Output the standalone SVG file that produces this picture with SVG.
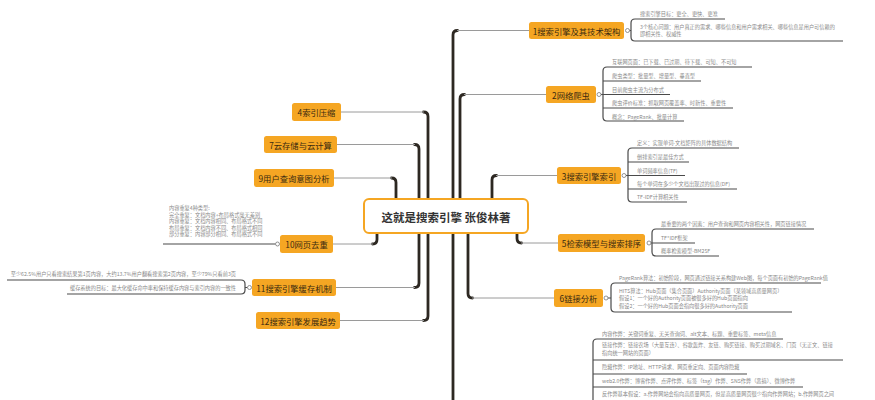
<svg xmlns="http://www.w3.org/2000/svg" width="875" height="400" viewBox="0 0 875 400">
<style>
text{font-family:"Noto Sans CJK SC","Noto Sans",sans-serif}
.node rect{fill:#F5A623;rx:2.5px}
.node text{font-size:8.3px;fill:#3a2a10;text-anchor:middle;dominant-baseline:central}
.trunk{fill:none;stroke:#2d2822;stroke-width:2.8;stroke-linecap:round}
.thin{stroke:#9a9a9a;stroke-width:1;fill:none}
.br{fill:none;stroke:#4a4a4a;stroke-width:1.2}
.knob{fill:#fff;stroke:#777;stroke-width:0.8}
.d{font-size:5.2px;fill:#888}
.de{font-size:5.2px;fill:#888;text-anchor:end}
</style>
<rect width="875" height="400" fill="#fff"/>

<g id="connectors">
  <path class="trunk" d="M453,199 V35 Q453,30.5 457.5,30.5"/>
  <path class="trunk" d="M453,233 V402"/>
  <path class="trunk" d="M460,199 V99 Q460,94.5 464.5,94.5"/>
  <path class="trunk" d="M492,199 V180 Q492,175.5 496.5,175.5"/>
  <path class="trunk" d="M517,233 V238.5 Q517,243 521.5,243"/>
  <path class="trunk" d="M468,233 V293.5 Q468,298 472.5,298"/>
  <path class="trunk" d="M428,199 V116.5 Q428,112 423.5,112"/>
  <path class="trunk" d="M419,199 V149 Q419,144.5 414.5,144.5"/>
  <path class="trunk" d="M396,199 V182.5 Q396,178 391.5,178"/>
  <path class="trunk" d="M377,233 V239.5 Q377,244 372.5,244"/>
  <path class="trunk" d="M419,233 V283 Q419,287.5 414.5,287.5"/>
  <path class="trunk" d="M428,233 V316 Q428,320.5 423.5,320.5"/>
  <path class="thin" d="M457,30.5 H529 M464,94.5 H546 M496,175.5 H557 M521,243 H558 M472,298 H554 M424,112 H341 M415,144.5 H337 M392,178 H334 M373,244 H333 M415,287.5 H336 M424,320.5 H340"/>
</g>

<g id="center">
  <rect x="364" y="199" width="164" height="34" rx="5" fill="#fff" stroke="#F5A623" stroke-width="2"/>
  <text x="446" y="216.5" font-size="11.5" font-weight="bold" fill="#333" text-anchor="middle" dominant-baseline="central">这就是搜索引擎 张俊林著</text>
</g>

<g id="n1" class="node"><rect x="529" y="22" width="95" height="17"/><text x="576.5" y="30.5">1搜索引擎及其技术架构</text></g>
<g id="n2" class="node"><rect x="546" y="86" width="50" height="17"/><text x="571" y="94.5">2网络爬虫</text></g>
<g id="n3" class="node"><rect x="557" y="167" width="64" height="17"/><text x="589" y="175.5">3搜索引擎索引</text></g>
<g id="n5" class="node"><rect x="558" y="234" width="87" height="18"/><text x="601.5" y="243">5检索模型与搜索排序</text></g>
<g id="n6" class="node"><rect x="554" y="289" width="49" height="18"/><text x="578.5" y="298">6链接分析</text></g>
<g id="n4" class="node"><rect x="292" y="103" width="49" height="18"/><text x="316.5" y="112">4索引压缩</text></g>
<g id="n7" class="node"><rect x="264" y="136" width="73" height="17"/><text x="300.5" y="144.5">7云存储与云计算</text></g>
<g id="n9" class="node"><rect x="254" y="169" width="80" height="18"/><text x="294" y="178">9用户查询意图分析</text></g>
<g id="n10" class="node"><rect x="280" y="235" width="53" height="18"/><text x="306.5" y="244">10网页去重</text></g>
<g id="n11" class="node"><rect x="252" y="279" width="84" height="17"/><text x="294" y="287.5">11搜索引擎缓存机制</text></g>
<g id="n12" class="node"><rect x="256" y="312" width="84" height="17"/><text x="298" y="320.5">12搜索引擎发展趋势</text></g>

<g id="d1">
  <path class="br" d="M629.5,30.5 H631 M725,19 H635 Q631,19 631,23 V37 Q631,41 635,41 H843"/>
  <circle class="knob" cx="627.5" cy="30.5" r="2"/>
  <text class="d" x="640" y="16">搜索引擎目标：更全、更快、更准</text>
  <text class="d" x="640" y="28.5">3个核心问题：用户真正的需求、哪些信息和用户需求相关、哪些信息是用户可信赖的</text>
  <text class="d" x="640" y="36">即相关性、权威性</text>
</g>

<g id="d2">
  <path class="br" d="M601,94.5 H603 M752,67 H607 Q603,67 603,71 V117 Q603,121 607,121 H684 M603,81 H701 M603,94.5 H670 M603,108 H733"/>
  <circle class="knob" cx="599" cy="94.5" r="2"/>
  <text class="d" x="612" y="64">互联网页面：已下载、已过期、待下载、可知、不可知</text>
  <text class="d" x="612" y="78">爬虫类型：批量型、增量型、垂直型</text>
  <text class="d" x="612" y="91.5">目前爬虫主流为分布式</text>
  <text class="d" x="612" y="105">爬虫评价标准：抓取网页覆盖率、时新性、重要性</text>
  <text class="d" x="612" y="118.5">概念：PageRank、批量计算</text>
</g>

<g id="d3">
  <path class="br" d="M626,175.5 H628 M739,148 H632 Q628,148 628,152 V198 Q628,202 632,202 H687 M628,162 H689 M628,175.5 H685 M628,189 H737"/>
  <circle class="knob" cx="624" cy="175.5" r="2"/>
  <text class="d" x="637" y="145">定义：实现单词-文档矩阵的具体数据结构</text>
  <text class="d" x="637" y="159">倒排索引是最佳方式</text>
  <text class="d" x="637" y="172.5">单词频率信息(TF)</text>
  <text class="d" x="637" y="186">每个单词在多少个文档出现过的信息(DF)</text>
  <text class="d" x="637" y="199">TF-IDF计算相关性</text>
</g>

<g id="d5">
  <path class="br" d="M651,243 H652 M814,229 H656 Q652,229 652,233 V252 Q652,256 656,256 H719 M652,243 H695"/>
  <circle class="knob" cx="649" cy="243" r="2"/>
  <text class="d" x="661" y="226">最重要的两个因素：用户查询和网页内容相关性，网页链接情况</text>
  <text class="d" x="661" y="240">TF*IDF框架</text>
  <text class="d" x="661" y="253">概率检索模型-BM25F</text>
</g>

<g id="d6">
  <path class="br" d="M608,298 H611 M821,283 H615 Q611,283 611,287 V308 Q611,312 615,312 H792"/>
  <circle class="knob" cx="606" cy="298" r="2"/>
  <text class="d" x="619" y="279.5">PageRank算法：初始阶段，网页通过链接关系构建Web图，每个页面有初始的PageRank值</text>
  <text class="d" x="619" y="292.5">HITS算法：Hub页面（集合页面）Authority页面（某领域高质量网页）</text>
  <text class="d" x="619" y="300">假设1：一个好的Authority页面被很多好的Hub页面指向</text>
  <text class="d" x="619" y="307.5">假设2：一个好的Hub页面会指向很多好的Authority页面</text>
</g>

<g id="d8">
  <path class="br" d="M783,339 H597 Q593,339 593,343 V405 M593,360 H843 M593,374 H747 M593,387 H803"/>
  <text class="d" x="602" y="336">内容作弊：关键词重复、无关查询词、alt文本、标题、重要标签、meta信息</text>
  <text class="d" x="602" y="347">链接作弊：链接农场（大量互连）、谷歌轰炸、友链、购买链接、购买过期域名、门页（无正文、链接</text>
  <text class="d" x="602" y="354.5">指向统一网站的页面）</text>
  <text class="d" x="602" y="369">隐藏作弊：IP地址、HTTP请求、网页重定向、页面内容隐藏</text>
  <text class="d" x="602" y="383">web2.0作弊：博客作弊、点评作弊、标签（tag）作弊、SNS作弊（恶搞）、微博作弊</text>
  <text class="d" x="602" y="396">反作弊基本假设：a.作弊网站会指向高质量网页，但是高质量网页很少指向作弊网站；b.作弊网页之间</text>
</g>

<g id="d10">
  <path class="br" d="M163,244 H275.5"/>
  <circle class="knob" cx="277.5" cy="244" r="2"/>
  <text class="d" x="169" y="210">内容重复4种类型:</text>
  <text class="d" x="169" y="216.5">完全重复：文档内容+布局格式毫无差别</text>
  <text class="d" x="169" y="223">内容重复：文档内容相同、布局格式不同</text>
  <text class="d" x="169" y="229.5">布局重复：文档内容不同、布局格式相同</text>
  <text class="d" x="169" y="236">部分重复：内容部分相同、布局格式不同</text>
</g>

<g id="d11">
  <path class="br" d="M7,280 H241 Q245,280 245,284 V290 Q245,294 241,294 H67 M245,287.5 H247.5"/>
  <circle class="knob" cx="249.5" cy="287.5" r="2"/>
  <text class="de" x="236" y="276">至少62.5%用户只看搜索结果第1页内容，大约13.7%用户翻看搜索第2页内容，至少79%只看前3页</text>
  <text class="de" x="236" y="290">缓存系统的目标：最大化缓存命中率和保持缓存内容与索引内容的一致性</text>
</g>
</svg>
